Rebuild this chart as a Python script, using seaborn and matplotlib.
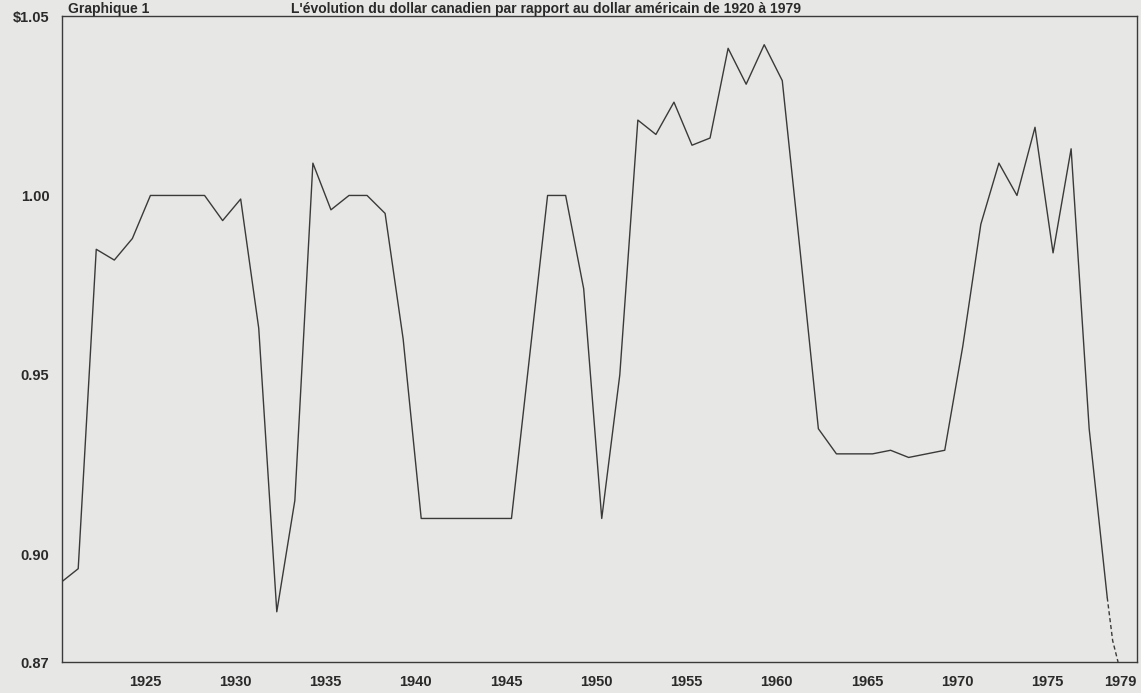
import numpy as np
import pandas as pd
import matplotlib
matplotlib.use("Agg")
import matplotlib.pyplot as plt
import seaborn as sns


# data (annual values, US$ per Canadian dollar)
years = list(range(1920, 1979))
values = [0.892, 0.896, 0.985, 0.982, 0.988, 1.000, 1.000, 1.000, 1.000, 0.993,
          0.999, 0.963, 0.884, 0.915, 1.009, 0.996, 1.000, 1.000, 0.995, 0.960,
          0.910, 0.910, 0.910, 0.910, 0.910, 0.910, 0.955, 1.000, 1.000, 0.974,
          0.910, 0.950, 1.021, 1.017, 1.026, 1.014, 1.016, 1.041, 1.031, 1.042,
          1.032, 0.984, 0.935, 0.928, 0.928, 0.928, 0.929, 0.927, 0.928, 0.929,
          0.958, 0.992, 1.009, 1.000, 1.019, 0.984, 1.013, 0.935, 0.888]

# dashed projection at the end
proj_years = [1978, 1978.3, 1978.6]
proj_values = [0.888, 0.876, 0.870]

xtick_years = [1925, 1930, 1935, 1940, 1945, 1950, 1955, 1960, 1965, 1970, 1975, 1979]
ytick_values = [0.87, 0.90, 0.95, 1.00, 1.05]
ytick_labels = ["0.87", "0.90", "0.95", "1.00", "$1.05"]

title = "L'évolution du dollar canadien par rapport au dollar américain de 1920 à 1979"

df = pd.DataFrame({"year": np.array(years) + 0.3, "value": values})
proj = pd.DataFrame({"year": np.array(proj_years) + 0.3, "value": proj_values})

bg = "#e7e7e5"
ink = "#3a3a3a"

sns.set_style("white", {"axes.facecolor": bg, "figure.facecolor": bg,
                        "axes.edgecolor": ink})
plt.rcParams["font.family"] = ["Liberation Sans", "DejaVu Sans"]

fig = plt.figure(figsize=(11.41, 6.93), dpi=100)
ax = fig.add_axes([0.0543, 0.0447, 0.9422, 0.9322])

sns.lineplot(data=df, x="year", y="value", ax=ax, color=ink, linewidth=1.0)
sns.lineplot(data=proj, x="year", y="value", ax=ax, color=ink, linewidth=1.0,
             linestyle=(0, (3, 2)))

ax.set_xlim(1920.4, 1979.95)
ax.set_ylim(0.87, 1.05)
ax.set_xticks(xtick_years)
ax.set_xticklabels([str(y) for y in xtick_years], fontweight="bold", fontsize=10.5, color="#2a2a2a")
ax.set_yticks(ytick_values)
ax.set_yticklabels(ytick_labels, fontweight="bold", fontsize=10.5, color="#2a2a2a")
ax.tick_params(axis="both", direction="out", length=3, width=0.8, color=ink, pad=6)
ax.set_xlabel("")
ax.set_ylabel("")
for s in ax.spines.values():
    s.set_linewidth(1.0)
    s.set_color(ink)

fig.text(0.255, 0.997, title, fontsize=10, fontweight="bold", color="#2a2a2a",
         va="top", ha="left")
fig.text(0.06, 0.997, "Graphique 1", fontsize=10, fontweight="bold", color="#2a2a2a",
         va="top", ha="left")

fig.savefig("out.png", dpi=100, facecolor=bg)
